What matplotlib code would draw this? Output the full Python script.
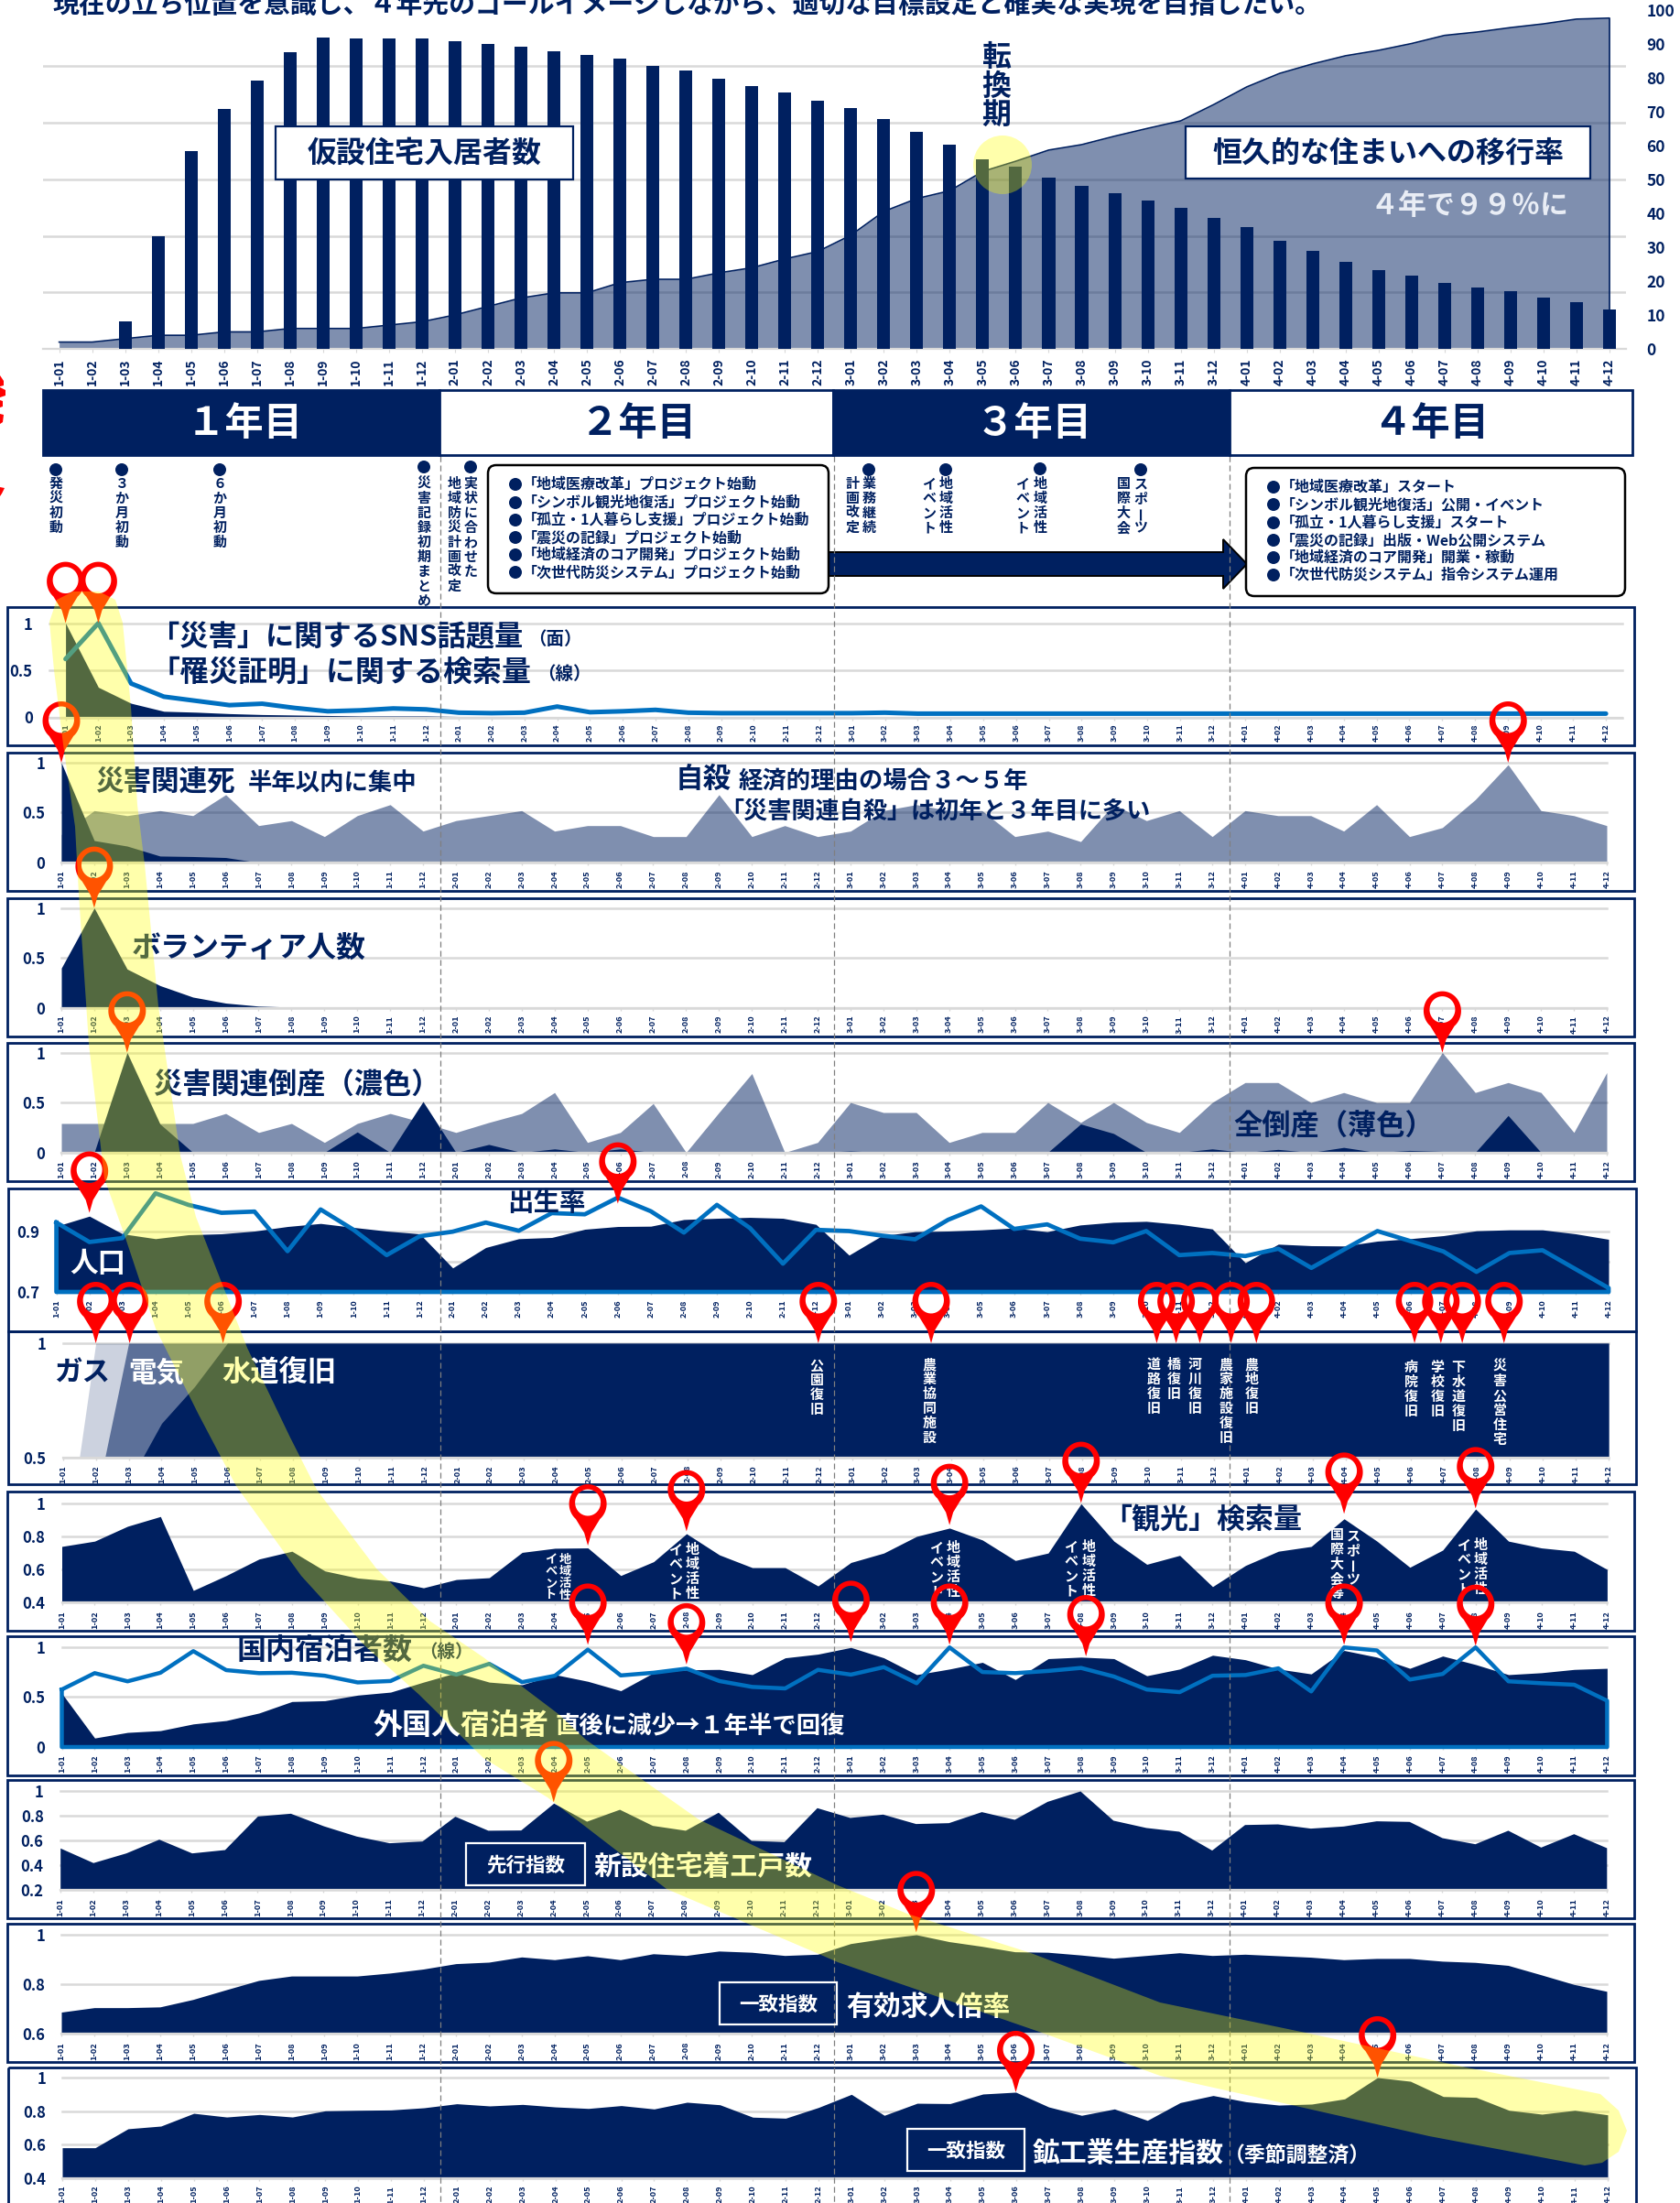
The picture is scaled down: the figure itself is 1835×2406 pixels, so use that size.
"""Four-year recovery roadmap: stacked monthly panels with a highlighted wave."""
import matplotlib
matplotlib.use("Agg")
import matplotlib.pyplot as plt
import numpy as np
from matplotlib.patches import Circle, FancyBboxPatch, PathPatch, Polygon, Rectangle
from matplotlib.path import Path

plt.rcParams["font.family"] = ["Noto Sans CJK JP", "DejaVu Sans"]

NAVY = "#002060"
GRID = "#D9D9D9"
BLUE = "#0070C0"
RED = "#FF0000"

months = [f"{y}-{m:02d}" for y in range(1, 5) for m in range(1, 13)]

# top chart
housing = [0, 0, 8.2, 33.2, 58.2, 70.7, 79.0, 87.5, 91.8, 91.5, 91.5, 91.4,
           90.7, 90.0, 89.0, 87.8, 86.6, 85.5, 83.5, 82.0, 79.7, 77.4, 75.6, 73.2,
           70.9, 67.7, 64.1, 60.2, 55.8, 53.6, 50.6, 48.0, 45.9, 43.8, 41.5, 38.6,
           35.9, 31.9, 29.0, 25.6, 23.3, 21.6, 19.4, 18.2, 17.0, 15.2, 13.9, 11.6]
rehousing = [2, 2, 3, 4, 4, 5, 5, 6, 6, 6, 7, 8,
             10, 12.5, 15, 16.5, 16.5, 19.5, 20.5, 20.5, 22.4, 23.9, 26.5, 28.7,
             33.5, 40.5, 44.3, 46.6, 52.3, 55.3, 58.6, 60.2, 62.7, 65.0, 67.2, 72.0,
             77.2, 81.2, 84.0, 86.4, 88.0, 90.0, 92.4, 93.4, 94.7, 95.8, 97.2, 97.5]
top_ticks = [0, 10, 20, 30, 40, 50, 60, 70, 80, 90, 100]

# panel 1
sns_volume = [1.0, 0.32, 0.15, 0.065, 0.055, 0.04, 0.03, 0.025, 0.02, 0.015, 0.015, 0.015,
              0.01, 0.01, 0.01, 0.005, 0.005, 0.005, 0.005, 0.005, 0.003, 0.003, 0.003, 0.003,
              0.003, 0.003, 0.002, 0.002, 0.002, 0.002, 0.002, 0.002, 0.002, 0.002, 0.002, 0.002,
              0.002, 0.002, 0.002, 0.002, 0.002, 0.002, 0.002, 0.002, 0.002, 0.002, 0.002, 0.002]
cert_search = [0.62, 1.0, 0.36, 0.22, 0.175, 0.13, 0.145, 0.10, 0.065, 0.075, 0.095, 0.085,
               0.05, 0.045, 0.05, 0.115, 0.055, 0.065, 0.08, 0.05, 0.045, 0.045, 0.045, 0.045,
               0.045, 0.05, 0.04, 0.04, 0.04, 0.04, 0.04, 0.04, 0.04, 0.04, 0.04, 0.04,
               0.04, 0.04, 0.04, 0.04, 0.04, 0.04, 0.04, 0.04, 0.04, 0.04, 0.04, 0.04]

# panel 2
suicide = [0.28, 0.52, 0.47, 0.52, 0.47, 0.68, 0.37, 0.42, 0.26, 0.47, 0.58, 0.315,
           0.42, 0.47, 0.52, 0.315, 0.37, 0.37, 0.26, 0.26, 0.68, 0.26, 0.37, 0.26,
           0.315, 0.52, 0.58, 0.52, 0.52, 0.26, 0.315, 0.21, 0.58, 0.42, 0.52, 0.26,
           0.52, 0.47, 0.47, 0.315, 0.58, 0.26, 0.35, 0.63, 0.98, 0.52, 0.47, 0.37]
related_death = [1.0, 0.22, 0.165, 0.065, 0.06, 0.05, 0, 0, 0, 0, 0, 0,
                 0, 0, 0, 0, 0, 0, 0, 0, 0, 0, 0, 0,
                 0, 0, 0, 0, 0, 0, 0, 0, 0, 0, 0, 0,
                 0, 0, 0, 0, 0, 0, 0, 0, 0, 0, 0, 0]

# panel 3
volunteers = [0.40, 1.0, 0.39, 0.225, 0.11, 0.05, 0.02, 0.01, 0.005, 0.003, 0.003, 0.003,
              0.002, 0.002, 0, 0, 0, 0, 0, 0, 0, 0, 0, 0,
              0, 0, 0, 0, 0, 0, 0, 0, 0, 0, 0, 0,
              0, 0, 0, 0, 0, 0, 0, 0, 0, 0, 0, 0]

# panel 4
all_bankrupt = [0.29, 0.29, 0.29, 0.29, 0.29, 0.39, 0.2, 0.29, 0.1, 0.29, 0.39, 0.30,
                0.2, 0.3, 0.39, 0.6, 0.1, 0.2, 0.49, 0, 0.4, 0.79, 0, 0.1,
                0.5, 0.4, 0.4, 0.1, 0.2, 0.2, 0.5, 0.3, 0.5, 0.3, 0.2, 0.5,
                0.7, 0.7, 0.5, 0.6, 0.5, 0.5, 1.0, 0.6, 0.7, 0.6, 0.2, 0.8]
related_bankrupt = [0, 0, 1.0, 0.285, 0, 0, 0, 0, 0, 0.205, 0, 0.51,
                    0, 0.08, 0, 0.035, 0, 0.035, 0, 0, 0, 0, 0, 0,
                    0.015, 0, 0, 0, 0, 0, 0, 0.285, 0.19, 0, 0, 0.035,
                    0, 0.03, 0, 0.05, 0, 0.02, 0.01, 0, 0.37, 0, 0, 0.01]

# panel 5
population = [0.916, 0.949, 0.891, 0.875, 0.888, 0.891, 0.900, 0.915, 0.925, 0.912, 0.900, 0.891,
              0.779, 0.846, 0.875, 0.879, 0.906, 0.915, 0.916, 0.938, 0.942, 0.945, 0.942, 0.922,
              0.821, 0.885, 0.898, 0.900, 0.904, 0.910, 0.898, 0.920, 0.929, 0.932, 0.922, 0.907,
              0.796, 0.857, 0.852, 0.851, 0.867, 0.875, 0.885, 0.901, 0.904, 0.904, 0.891, 0.873]
birth_rate = [0.928, 0.864, 0.877, 1.024, 0.986, 0.960, 0.964, 0.834, 0.971, 0.904, 0.821, 0.883,
              0.898, 0.928, 0.901, 0.959, 0.955, 1.010, 0.965, 0.895, 0.986, 0.910, 0.793, 0.904,
              0.900, 0.885, 0.873, 0.937, 0.981, 0.907, 0.922, 0.875, 0.863, 0.900, 0.821, 0.828,
              0.818, 0.842, 0.779, 0.840, 0.900, 0.867, 0.833, 0.766, 0.828, 0.837, 0.775, 0.713]

# panel 6
gas = [0.0] + [1.0] * 47
electricity = [0.0, 0.31] + [1.0] * 46
water = [0.0, 0.0, 0.39, 0.65, 0.81, 1.0] + [1.0] * 42

# panel 7
tourism_search = [0.738, 0.770, 0.860, 0.919, 0.472, 0.562, 0.662, 0.709, 0.590, 0.547, 0.529, 0.488,
                  0.538, 0.549, 0.702, 0.727, 0.729, 0.562, 0.646, 0.815, 0.687, 0.610, 0.610, 0.499,
                  0.641, 0.698, 0.799, 0.849, 0.777, 0.653, 0.698, 0.996, 0.770, 0.630, 0.684, 0.495,
                  0.623, 0.709, 0.738, 0.905, 0.770, 0.612, 0.716, 0.964, 0.770, 0.729, 0.709, 0.599]

# panel 8
foreign_guests = [0.537, 0.090, 0.146, 0.164, 0.231, 0.265, 0.340, 0.455, 0.463, 0.519, 0.549, 0.649,
                  0.743, 0.649, 0.623, 0.724, 0.657, 0.563, 0.743, 0.772, 0.776, 0.724, 0.892, 0.929,
                  0.996, 0.892, 0.724, 0.780, 0.847, 0.675, 0.884, 0.899, 0.884, 0.713, 0.780, 0.918,
                  0.873, 0.780, 0.731, 0.966, 0.899, 0.787, 0.910, 0.825, 0.724, 0.743, 0.776, 0.787]
domestic_guests = [0.575, 0.739, 0.657, 0.743, 0.959, 0.769, 0.739, 0.743, 0.713, 0.646, 0.660, 0.813,
                   0.724, 0.832, 0.649, 0.713, 0.974, 0.716, 0.743, 0.784, 0.660, 0.601, 0.586, 0.772,
                   0.724, 0.799, 0.638, 0.996, 0.750, 0.739, 0.761, 0.791, 0.705, 0.575, 0.549, 0.713,
                   0.720, 0.787, 0.556, 0.996, 0.966, 0.675, 0.731, 0.996, 0.657, 0.638, 0.623, 0.463]

# panel 9
housing_starts = [0.540, 0.422, 0.500, 0.611, 0.500, 0.527, 0.798, 0.820, 0.719, 0.636, 0.582, 0.596,
                  0.796, 0.683, 0.685, 0.902, 0.756, 0.852, 0.722, 0.683, 0.828, 0.601, 0.591, 0.865,
                  0.786, 0.813, 0.737, 0.744, 0.833, 0.771, 0.916, 1.000, 0.764, 0.705, 0.675, 0.523,
                  0.729, 0.734, 0.700, 0.717, 0.759, 0.754, 0.623, 0.574, 0.683, 0.547, 0.655, 0.542]

# panel 10
job_ratio = [0.687, 0.705, 0.705, 0.708, 0.738, 0.777, 0.815, 0.833, 0.833, 0.833, 0.845, 0.861,
             0.883, 0.889, 0.910, 0.899, 0.915, 0.899, 0.923, 0.916, 0.934, 0.929, 0.916, 0.921,
             0.964, 0.984, 1.000, 0.972, 0.953, 0.931, 0.929, 0.918, 0.905, 0.916, 0.927, 0.916,
             0.921, 0.915, 0.909, 0.899, 0.904, 0.904, 0.893, 0.888, 0.876, 0.838, 0.799, 0.771]

# panel 11
production = [0.582, 0.582, 0.695, 0.711, 0.787, 0.765, 0.780, 0.765, 0.802, 0.805, 0.807, 0.820,
              0.844, 0.831, 0.840, 0.825, 0.816, 0.833, 0.813, 0.853, 0.838, 0.764, 0.758, 0.822,
              0.900, 0.775, 0.847, 0.845, 0.902, 0.913, 0.825, 0.775, 0.813, 0.745, 0.851, 0.893,
              0.856, 0.836, 0.842, 0.873, 1.000, 0.978, 0.887, 0.882, 0.805, 0.782, 0.805, 0.778]

# (month index, value) of the map pins in each panel
pins_1 = [(0, 1.0), (1, 1.0)]
pins_2 = [(0, 1.0), (44, 1.0)]
pins_3 = [(1, 1.0)]
pins_4 = [(2, 1.0), (42, 1.0)]
pins_5 = [(1, 0.96), (17, 0.99)]
pins_6 = [(1, 1.0), (2.03, 1.0), (4.87, 1.0), (22.97, 1.0), (26.4, 1.0), (33.26, 1.0), (33.85, 1.0),
          (34.57, 1.0), (35.52, 1.0), (36.29, 1.0), (41.1, 1.0), (41.9, 1.0), (42.55, 1.0), (43.82, 1.0)]
pins_7 = [(16, 0.743), (19, 0.829), (27, 0.867), (31, 1.0), (39, 0.935), (43, 0.968)]
pins_8 = [(16, 1.022), (19, 0.825), (24, 1.05), (27, 1.022), (31.15, 0.907), (39, 1.022), (43, 1.011)]
pins_9 = [(15, 0.909)]
pins_10 = [(26, 1.01)]
pins_11 = [(29, 0.913), (40, 1.0)]

fig = plt.figure(figsize=(18.35, 24.06), dpi=100)
W, H = 1835, 2406

# everything that is not a chart is drawn in pixel coordinates on this layer
ov = fig.add_axes([0, 0, 1, 1], zorder=5)
ov.set_xlim(0, W)
ov.set_ylim(H, 0)
ov.axis("off")


def make_ax(left, right, top, bottom, ymin, ymax, xlim=(0, 47)):
    ax = fig.add_axes([left / W, 1 - bottom / H, (right - left) / W, (bottom - top) / H], zorder=2)
    ax.set_xlim(*xlim)
    ax.set_ylim(ymin, ymax)
    ax.patch.set_alpha(0)
    for s in ["top", "left", "right"]:
        ax.spines[s].set_visible(False)
    ax.spines["bottom"].set_color(GRID)
    ax.spines["bottom"].set_linewidth(1.6)
    return ax


def style_ax(ax, yticks, ylabels, label_pad):
    ax.set_yticks(yticks)
    ax.set_yticklabels(ylabels, fontsize=12, fontweight="bold", color=NAVY)
    ax.tick_params(axis="y", length=0, pad=13)
    ax.set_xticks(range(48))
    ax.set_xticklabels(months, rotation=90, fontsize=6.6, fontweight="bold", color=NAVY)
    ax.tick_params(axis="x", length=2.5, width=1, color=GRID, pad=label_pad)
    for v in yticks:
        ax.axhline(v, color=GRID, lw=1.8, zorder=0, clip_on=False)


def area(ax, values, color=NAVY, alpha=1.0, base=0, z=2):
    ax.fill_between(range(48), values, base, color=color, alpha=alpha, lw=0, zorder=z)


def pin(ax, pins):
    # ring with a spike, tip on the value
    t = np.radians(np.linspace(-50, 230, 60))
    hole = np.radians(np.linspace(360, 0, 40))
    for idx, val in pins:
        px, py = ax.transData.transform((idx, val))
        py = H - py
        outer = ([(0, 0), (4, -14)] + list(zip(20.5 * np.cos(t), -45.5 - 21.5 * np.sin(t)))
                 + [(-4, -14), (0, 0)])
        inner = list(zip(14 * np.cos(hole), -47 - 14.5 * np.sin(hole)))
        verts = [(px + a, py + b) for a, b in outer] + [(px + a, py + b) for a, b in inner]
        codes = [Path.MOVETO] + [Path.LINETO] * (len(outer) - 1) + [Path.MOVETO] + [Path.LINETO] * (len(inner) - 1)
        ov.add_patch(PathPatch(Path(verts, codes), fc=RED, ec="none", zorder=4))


def label(x, y, s, size=22, color=NAVY, ha="left", weight="bold", z=3):
    # the layout box of the font sits a little above the glyphs
    ov.text(x, y + 3, s, fontsize=size, color=color, ha=ha, va="center", fontweight=weight, zorder=z)


def vtext(x, y, s, color=NAVY, size=10.8, step=16):
    # stacked vertical writing, long vowel mark turned upright
    for i, ch in enumerate(s):
        ov.text(x, y + i * step, ch, fontsize=size, color=color, ha="center", va="center",
                fontweight="bold", rotation=90 if ch == "ー" else 0, zorder=3)


def box(x0, y0, x1, y1, fc="white", ec=NAVY, lw=1.6, z=3):
    ov.add_patch(Rectangle((x0, y0), x1 - x0, y1 - y0, fc=fc, ec=ec, lw=lw, zorder=z))


# slivers of a red text cut off by the left edge of the slide
for sliver in [[(0, 410), (4, 416), (4, 421), (0, 422)], [(0, 423), (6, 426), (6, 432), (0, 434)],
               [(0, 437), (3, 438), (3, 444), (0, 445)], [(0, 452), (4, 453), (3, 461), (0, 463)],
               [(0, 532), (5, 533), (2, 539), (0, 542)]]:
    ov.add_patch(Polygon(sliver, fc=RED, ec="none", zorder=3))

# top chart
ax0 = make_ax(46.6, 1776, 10.5, 381, 0, 100, xlim=(-0.5, 47.5))
for v in [0, 16.67, 33.33, 50, 66.67, 83.33]:
    ax0.axhline(v, color=GRID, lw=1.8, zorder=0)
ax0.fill_between(range(48), rehousing, 0, color=NAVY, alpha=0.5, lw=0, zorder=1)
ax0.plot(list(range(48)) + [47], rehousing + [0], color=NAVY, lw=1.2, zorder=2)
ax0.bar(range(48), housing, width=0.39, color=NAVY, zorder=3)
ax0.set_xticks(range(48))
ax0.set_xticklabels(months, rotation=90, fontsize=10, fontweight="bold", color=NAVY)
ax0.tick_params(axis="x", length=3, color=GRID, pad=4.3)
ax0.yaxis.tick_right()
ax0.set_yticks(top_ticks)
ax0.set_yticklabels(top_ticks, fontsize=12.5, fontweight="bold", color=NAVY)
ax0.tick_params(axis="y", length=0, pad=16)
for lab in ax0.get_yticklabels():
    lab.set_ha("left")

label(57, 2, "現在の立ち位置を意識し、４年先のゴールイメージしながら、適切な目標設定と確実な実現を目指したい。", size=20.8)
box(300.5, 137.6, 626, 196)
label(463.5, 165, "仮設住宅入居者数", size=23, ha="center", z=4)
box(1294.7, 137.6, 1736.6, 195.5)
label(1516.5, 165, "恒久的な住まいへの移行率", size=23, ha="center", z=4)
label(1605, 222, "４年で９９％に", size=22.3, color="#E9EDF5", ha="center")
vtext(1088.7, 63, "転換期", size=23, step=31.6)
ov.add_patch(Circle((1095, 180), 32, fc="#FFFF00", alpha=0.33, ec="none", zorder=6))

# year banner
year_edges = [47, 480, 910, 1343, 1783]
year_centers = [267, 697, 1129, 1563]
for i, name in enumerate(["１年目", "２年目", "３年目", "４年目"]):
    dark = i % 2 == 0
    box(year_edges[i], 426, year_edges[i + 1], 497, fc=NAVY if dark else "white", lw=2)
    label(year_centers[i], 460, name, size=30.5, color="white" if dark else NAVY, ha="center", z=4)

# milestones under the banner
for x, y, cols in [(61, 513, [(61, "発災初動")]),
                   (133, 513, [(133, "３か月初動")]),
                   (240, 513, [(240, "６か月初動")]),
                   (463, 510, [(463, "災害記録初期まとめ")]),
                   (514, 510, [(514, "実状に合わせた"), (496, "地域防災計画改定")]),
                   (949, 513, [(949, "業務継続"), (931, "計画改定")]),
                   (1033, 513, [(1033, "地域活性"), (1015, "イベント")]),
                   (1136, 512, [(1136, "地域活性"), (1117, "イベント")]),
                   (1246, 513, [(1246, "スポーツ"), (1227, "国際大会")])]:
    ov.add_patch(Circle((x, y), 7, fc=NAVY, ec="none", zorder=3))
    for cx, s in cols:
        vtext(cx, 528, s)

ov.add_patch(Polygon([(905, 603), (1336, 603), (1336, 589), (1362, 616), (1336, 643), (1336, 629), (905, 629)],
                     fc=NAVY, ec="black", lw=1.4, zorder=2))
start_items = ["「地域医療改革」プロジェクト始動", "「シンボル観光地復活」プロジェクト始動",
               "「孤立・1人暮らし支援」プロジェクト始動", "「震災の記録」プロジェクト始動",
               "「地域経済のコア開発」プロジェクト始動", "「次世代防災システム」プロジェクト始動"]
run_items = ["「地域医療改革」スタート", "「シンボル観光地復活」公開・イベント",
             "「孤立・1人暮らし支援」スタート", "「震災の記録」出版・Web公開システム",
             "「地域経済のコア開発」開業・稼動", "「次世代防災システム」指令システム運用"]
for x0, y0, x1, y1, items, ys in [(533, 508, 905, 648, start_items, [529, 549, 568, 587, 606, 625]),
                                  (1361, 511, 1775, 651, run_items, [532, 551, 571, 590, 609, 628])]:
    ov.add_patch(FancyBboxPatch((x0 + 6, y0 + 6), x1 - x0 - 12, y1 - y0 - 12, boxstyle="round,pad=6,rounding_size=9",
                                fc="white", ec="black", lw=1.8, zorder=3))
    for y, s in zip(ys, items):
        ov.add_patch(Circle((x0 + 30, y), 7, fc=NAVY, ec="none", zorder=4))
        label(x0 + 38, y - 3, s, size=11.5, z=4)

# panel frames
for x0, y0, x1, y1 in [(8, 663, 1785, 814), (8, 822, 1785, 973), (8, 981, 1785, 1132), (8, 1139, 1785, 1290),
                       (9, 1298, 1787, 1454), (9, 1454, 1787, 1621), (8, 1629, 1785, 1781), (8, 1787, 1785, 1939),
                       (8, 1944, 1785, 2095), (8, 2101, 1785, 2252), (9, 2258, 1787, 2430)]:
    ov.add_patch(Rectangle((x0, y0), x1 - x0, y1 - y0, fc="none", ec=NAVY, lw=2, zorder=1))

# panel 1
a1 = make_ax(53.7, 1772, 680.6, 783.5, 0, 1, xlim=(-0.5, 47.5))
style_ax(a1, [0, 0.5, 1], ["0", "0.5", "1"], 2.5)
area(a1, sns_volume)
a1.plot(range(48), cert_search, color=BLUE, lw=3.6, zorder=3, solid_capstyle="round", clip_on=False)
pin(a1, pins_1)
label(165, 693, "「災害」に関するSNS話題量", size=22.5)
label(606, 695, "（面）", size=14, ha="center")
label(165, 732, "「罹災証明」に関する検索量", size=23)
label(616, 734, "（線）", size=14, ha="center")

# panel 2
a2 = make_ax(67, 1755, 833, 942, 0, 1)
style_ax(a2, [0, 0.5, 1], ["0", "0.5", "1"], 3.6)
area(a2, suicide, alpha=0.5, z=1)
area(a2, related_death)
pin(a2, pins_2)
label(104, 851, "災害関連死", size=22)
label(271, 853, "半年以内に集中", size=19)
label(738, 848, "自殺", size=22)
label(807, 850, "経済的理由の場合３～５年", size=19)
label(786, 883.5, "「災害関連自殺」は初年と３年目に多い", size=18.8)

# panel 3
a3 = make_ax(67, 1755, 991.6, 1101, 0, 1)
style_ax(a3, [0, 0.5, 1], ["0", "0.5", "1"], 3)
area(a3, volunteers)
pin(a3, pins_3)
label(144, 1033, "ボランティア人数", size=23)

# panel 4
a4 = make_ax(67, 1755, 1149.6, 1258.6, 0, 1)
style_ax(a4, [0, 0.5, 1], ["0", "0.5", "1"], 3.6)
area(a4, all_bankrupt, alpha=0.5, z=1)
area(a4, related_bankrupt)
pin(a4, pins_4)
label(168, 1182.6, "災害関連倒産（濃色）", size=22.5)
label(1347, 1227.6, "全倒産（薄色）", size=22.5)

# panel 5
a5 = make_ax(61.6, 1757, 1302, 1411, 0.7, 0.7 + (1411 - 1302) / 332.5)
style_ax(a5, [0.7, 0.8, 0.9], ["0.7", "", "0.9"], 3.6)
area(a5, population, base=0.7)
a5.plot(list(range(48)) + [47, 0, 0], birth_rate + [0.7, 0.7, birth_rate[0]], color=BLUE, lw=3.4,
        zorder=3, clip_on=False)
pin(a5, pins_5)
label(554, 1310.6, "出生率", size=20.5)
label(76, 1377, "人口", size=22, color="white")

# panel 6
a6 = make_ax(68.7, 1757, 1467, 1592, 0.5, 1)
style_ax(a6, [0.5, 1], ["0.5", "1"], 3.3)
area(a6, gas, alpha=0.2, base=0.5, z=1)
area(a6, electricity, alpha=0.55, base=0.5, z=1.5)
area(a6, water, base=0.5)
pin(a6, pins_6)
label(58.7, 1497, "ガス", size=22)
label(140, 1497, "電気", size=22, color="white")
label(242, 1497, "水道復旧", size=22.5, color="white")
for x, y, s in [(892, 1491, "公園復旧"), (1015, 1490, "農業協同施設"), (1260, 1490, "道路復旧"), (1282, 1490, "橋復旧"),
                (1305, 1490, "河川復旧"), (1339, 1490, "農家施設復旧"), (1367, 1490, "農地復旧"),
                (1541, 1493, "病院復旧"), (1570, 1493, "学校復旧"), (1593, 1493, "下水道復旧"), (1638, 1492, "災害公営住宅")]:
    vtext(x, y, s, color="white")

# panel 7
a7 = make_ax(67.5, 1755.4, 1641.6, 1750, 0.4, 1)
style_ax(a7, [0.4, 0.6, 0.8, 1], ["0.4", "0.6", "0.8", "1"], 4)
area(a7, tourism_search, base=0.4)
label(1205, 1657.5, "「観光」検索量", size=22.3)
vtext(617, 1703, "地域活性", color="white", size=9.5, step=13)
vtext(602, 1703, "イベント", color="white", size=9.5, step=13)
for x, y, s in [(756, 1692, "地域活性"), (738, 1692, "イベント"), (1041, 1690, "地域活性"), (1023, 1690, "イベント"),
                (1189, 1689, "地域活性"), (1170, 1689, "イベント"), (1478, 1677, "スポーツ"), (1460, 1676, "国際大会等"),
                (1617, 1687, "地域活性"), (1599, 1687, "イベント")]:
    vtext(x, y, s, color="white")

# panel 8
a8 = make_ax(67.5, 1755.4, 1798.8, 1908, 0, 1)
style_ax(a8, [0, 0.5, 1], ["0", "0.5", "1"], 3.6)
area(a8, foreign_guests)
a8.plot(list(range(48)) + [47, 0, 0], domestic_guests + [0, 0, domestic_guests[0]], color=BLUE, lw=3.2,
        zorder=3, clip_on=False)
label(259, 1800, "国内宿泊者数", size=23)
label(487, 1802, "（線）", size=14, ha="center")
label(408, 1882, "外国人宿泊者", size=23, color="white")
label(606, 1883, "直後に減少→１年半で回復", size=19, color="white")

# panel 9
a9 = make_ax(65.7, 1754.8, 1956, 2064.3, 0.2, 1)
style_ax(a9, [0.2, 0.4, 0.6, 0.8, 1], ["0.2", "0.4", "0.6", "0.8", "1"], 4)
area(a9, housing_starts, base=0.2)
box(509, 2013, 638.5, 2059, fc="none", ec="white")
label(574, 2034, "先行指数", size=15.5, color="white", ha="center")
label(648, 2036, "新設住宅着工戸数", size=21.5, color="white")

# panel 10
a10 = make_ax(67, 1755, 2113, 2221, 0.6, 1)
style_ax(a10, [0.6, 0.8, 1], ["0.6", "0.8", "1"], 4)
area(a10, job_ratio, base=0.6)
box(786, 2165, 914, 2211, fc="none", ec="white")
label(850, 2186, "一致指数", size=15.5, color="white", ha="center")
label(924, 2189, "有効求人倍率", size=21.5, color="white")

# panel 11
a11 = make_ax(68, 1756, 2269, 2379, 0.4, 1)
style_ax(a11, [0.4, 0.6, 0.8, 1], ["0.4", "0.6", "0.8", "1"], 3)
area(a11, production, base=0.4)
box(991, 2325, 1119, 2371, fc="none", ec="white")
label(1055, 2346, "一致指数", size=15.5, color="white", ha="center")
label(1128, 2349, "鉱工業生産指数", size=21.5, color="white")
label(1417, 2351, "（季節調整済）", size=16.5, color="white", ha="center")

for ax, pins in [(a7, pins_7), (a8, pins_8), (a9, pins_9), (a10, pins_10), (a11, pins_11)]:
    pin(ax, pins)

# year separators
for x in [480.6, 911, 1343]:
    ov.plot([x, x], [498, H], color="#7F7F7F", lw=0.9, ls=(0, (5, 3)), zorder=2.5)

# yellow wave running through the first months of shock down to year four
wave_left = [(62, 655), (54, 679), (59, 732), (69, 813), (82, 903), (86, 976), (97, 1140), (114, 1287),
             (136, 1349), (170, 1451), (217, 1545), (258, 1623), (329, 1721), (399, 1798), (458, 1851),
             (528, 1920), (598, 1963), (728, 2063), (892, 2133), (915, 2143), (1138, 2220), (1267, 2267),
             (1402, 2297), (1561, 2333), (1731, 2365)]
wave_right = [(80, 646), (108, 646), (126, 655), (134, 680), (143, 772), (150, 879), (158, 944), (173, 1099),
              (197, 1262), (214, 1329), (241, 1398), (270, 1472), (317, 1570), (346, 1627), (411, 1713),
              (469, 1770), (528, 1810), (610, 1872), (640, 1900), (763, 1987), (822, 2015), (915, 2059),
              (991, 2090), (1126, 2133), (1267, 2187), (1426, 2220), (1602, 2258), (1678, 2273), (1748, 2287),
              (1768, 2305), (1777, 2327), (1768, 2350), (1750, 2362)]
ov.add_patch(Polygon(wave_left + wave_right[::-1], closed=True, fc="#FFFF00", alpha=0.33, ec="none", zorder=6))

fig.savefig("out.png", dpi=100)
plt.close(fig)
